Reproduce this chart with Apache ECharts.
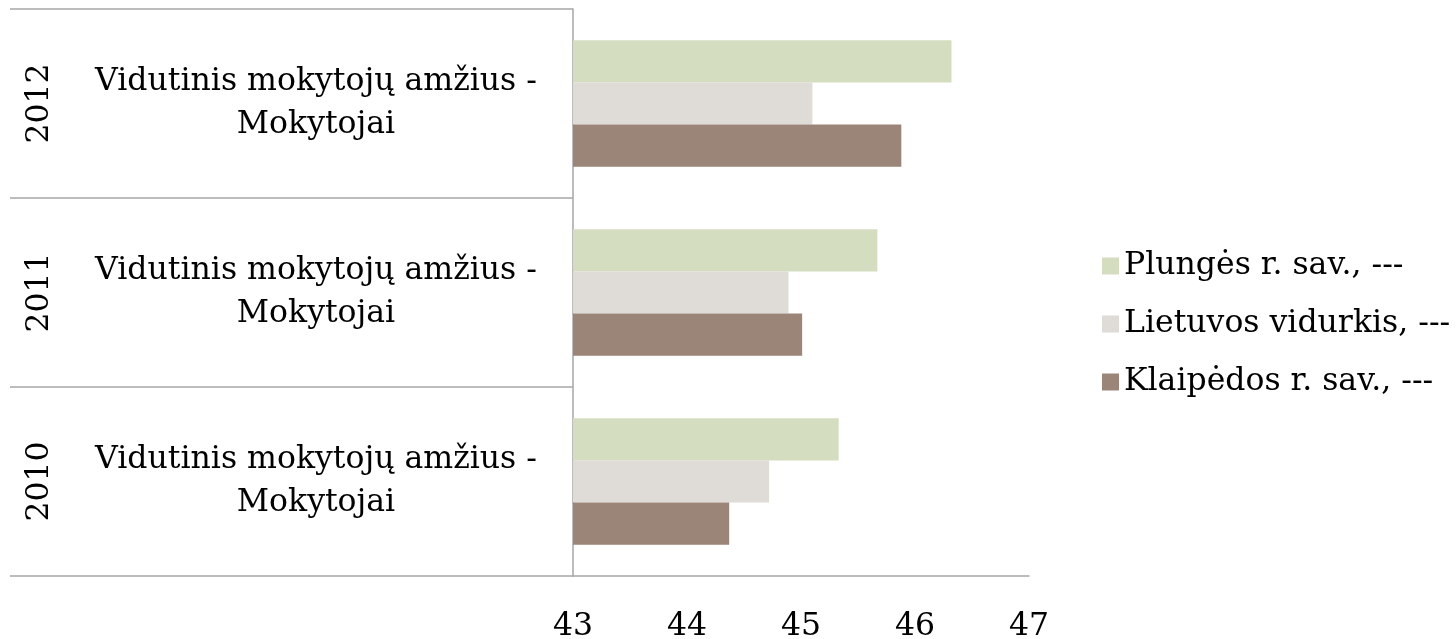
<!DOCTYPE html>
<html>
<head>
<meta charset="utf-8">
<script src="https://cdn.jsdelivr.net/npm/echarts@6/dist/echarts.min.js"></script>
<style>
    html, body { margin: 0; padding: 0; background: #fff; }
    #chart { width: 1456px; height: 639px; }
</style>
</head>
<body>
<div id="chart"></div>
<script>
// duomenys
var years = ['2010', '2011', '2012'];
var indicator = 'Vidutinis mokytojų amžius -\nMokytojai';
var seriesNames = ['Plungės r. sav., ---', 'Lietuvos vidurkis, ---', 'Klaipėdos r. sav., ---'];
var plunges = [45.33, 45.67, 46.32];
var lietuvos = [44.72, 44.89, 45.10];
var klaipedos = [44.37, 45.01, 45.88];
var xTicks = [43, 44, 45, 46, 47];

var font = 'DejaVu Serif';
var fs = 31.5;
var lineColor = '#a6a6a6';
var colors = ['#d4ddbf', '#dfdbd7', '#9b8578'];

var myChart = echarts.init(document.getElementById('chart'));
myChart.setOption({
    animation: false,
    textStyle: { fontFamily: font },
    color: colors,
    legend: {
        orient: 'vertical',
        left: 1097,
        top: 245,
        itemWidth: 17,
        itemHeight: 17,
        itemGap: 26,
        icon: 'rect',
        data: seriesNames,
        textStyle: { fontFamily: font, fontSize: fs, color: '#000', padding: [0, 0, 0, 0] }
    },
    grid: { left: 573, right: 427, top: 9, bottom: 63, outerBoundsMode: 'none' },
    xAxis: {
        type: 'value',
        min: xTicks[0],
        max: xTicks[xTicks.length - 1],
        interval: 1,
        splitLine: { show: false },
        axisTick: { show: false },
        axisLine: { show: true, lineStyle: { color: lineColor, width: 1.5 } },
        axisLabel: { fontFamily: font, fontSize: fs, color: '#000', margin: 35 }
    },
    yAxis: [{
        type: 'category',
        data: years,
        axisLine: { show: true, lineStyle: { color: lineColor, width: 1.5 } },
        axisTick: { show: true, length: 563, lineStyle: { color: lineColor, width: 1.5 } },
        axisLabel: {
            margin: 257,
            align: 'center',
            fontFamily: font,
            fontSize: fs,
            lineHeight: 43,
            color: '#000',
            formatter: function () { return indicator; }
        }
    }, {
        type: 'category',
        data: years,
        position: 'left',
        axisLine: { show: false },
        axisTick: { show: false },
        axisLabel: {
            margin: 533,
            rotate: 90,
            align: 'center',
            verticalAlign: 'middle',
            fontFamily: font,
            fontSize: fs,
            color: '#000'
        }
    }],
    series: [
        { name: seriesNames[0], type: 'bar', data: plunges, barGap: '0%', barCategoryGap: '33%' },
        { name: seriesNames[1], type: 'bar', data: lietuvos, barGap: '0%', barCategoryGap: '33%' },
        { name: seriesNames[2], type: 'bar', data: klaipedos, barGap: '0%', barCategoryGap: '33%' }
    ]
});
</script>
</body>
</html>
